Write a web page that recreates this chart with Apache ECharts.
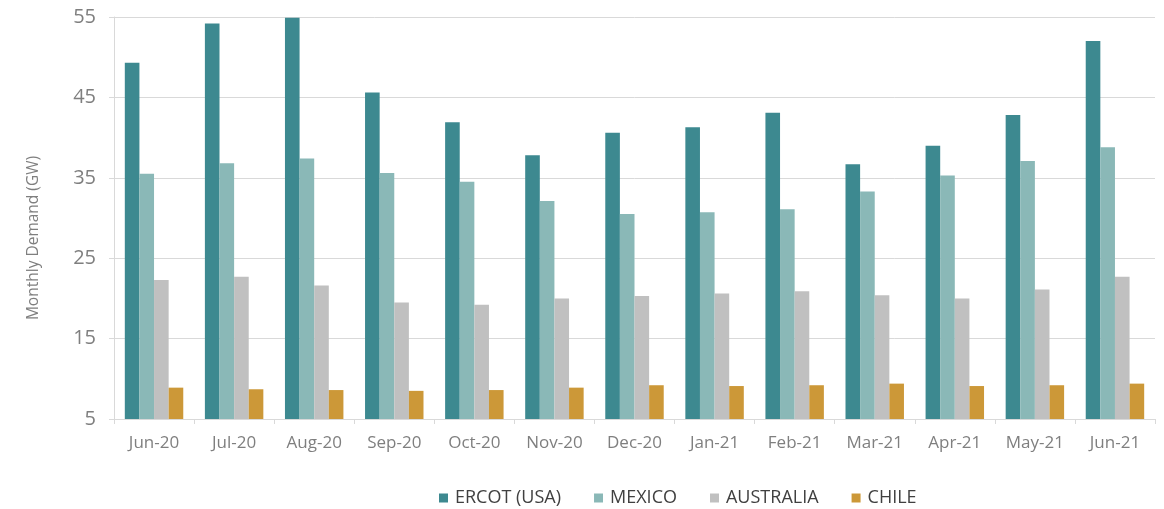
<!DOCTYPE html>
<html>
<head>
<meta charset="utf-8">
<script src="https://cdn.jsdelivr.net/npm/echarts@6/dist/echarts.min.js"></script>
<style>
  html, body { margin: 0; padding: 0; background: #ffffff; }
  #chart { width: 1164px; height: 509px; }
</style>
</head>
<body>
<div id="chart"></div>
<script>
// Monthly peak demand by grid, Jun-20 to Jun-21
const months = ['Jun-20', 'Jul-20', 'Aug-20', 'Sep-20', 'Oct-20', 'Nov-20', 'Dec-20',
                'Jan-21', 'Feb-21', 'Mar-21', 'Apr-21', 'May-21', 'Jun-21'];
const ercot     = [49.3, 54.2, 54.9, 45.6, 41.9, 37.8, 40.6, 41.3, 43.1, 36.7, 39.0, 42.8, 52.0];
const mexico    = [35.5, 36.8, 37.4, 35.6, 34.5, 32.1, 30.5, 30.7, 31.1, 33.3, 35.3, 37.1, 38.8];
const australia = [22.3, 22.7, 21.6, 19.5, 19.2, 20.0, 20.3, 20.6, 20.9, 20.4, 20.0, 21.1, 22.7];
const chile     = [8.9, 8.7, 8.6, 8.5, 8.6, 8.9, 9.2, 9.1, 9.2, 9.4, 9.1, 9.2, 9.4];
const yTicks = { min: 5, max: 55, step: 10 };

const seriesDefs = [
  { name: 'ERCOT (USA)', data: ercot,     color: '#3d8990' },
  { name: 'MEXICO',      data: mexico,    color: '#8ab8b7' },
  { name: 'AUSTRALIA',   data: australia, color: '#c0c0c0' },
  { name: 'CHILE',       data: chile,     color: '#cc9838' }
];

const font = '"Open Sans", "Noto Sans", sans-serif';
const chart = echarts.init(document.getElementById('chart'), null, { renderer: 'canvas' });

chart.setOption({
  animation: false,
  backgroundColor: '#ffffff',
  textStyle: { fontFamily: font },
  grid: { left: 114, right: 9, top: 17, bottom: 90, containLabel: false },
  legend: {
    left: 434,
    top: 484,
    itemWidth: 9,
    itemHeight: 9,
    itemGap: 33,
    icon: 'rect',
    textStyle: { fontFamily: font, fontSize: 18, color: '#404040', padding: [0, 0, 0, 2] },
    data: seriesDefs.map(s => s.name)
  },
  xAxis: {
    type: 'category',
    data: months,
    boundaryGap: true,
    axisLine: { show: true, lineStyle: { color: '#d9d9d9', width: 1 } },
    axisTick: { show: true, alignWithLabel: false, length: 5, lineStyle: { color: '#d9d9d9' } },
    axisLabel: { color: '#7f7f7f', fontSize: 17, fontFamily: font, margin: 16 },
    splitLine: { show: false }
  },
  yAxis: {
    type: 'value',
    min: yTicks.min,
    max: yTicks.max,
    interval: yTicks.step,
    name: 'Monthly Demand (GW)',
    nameLocation: 'middle',
    nameGap: 72,
    nameRotate: 90,
    nameTextStyle: { color: '#7f7f7f', fontSize: 15.5, fontFamily: font, padding: [0, 40, 0, 0] },
    axisLine: { show: true, lineStyle: { color: '#d9d9d9', width: 1 } },
    axisTick: { show: true, length: 5, lineStyle: { color: '#d9d9d9' } },
    axisLabel: { color: '#7f7f7f', fontSize: 20, fontFamily: font, margin: 18 },
    splitLine: { show: true, lineStyle: { color: '#d9d9d9', width: 1 } }
  },
  series: seriesDefs.map(s => ({
    name: s.name,
    type: 'bar',
    data: s.data,
    barGap: '0%',
    barCategoryGap: '27%',
    itemStyle: { color: s.color },
    emphasis: { disabled: true }
  }))
});
</script>
</body>
</html>
